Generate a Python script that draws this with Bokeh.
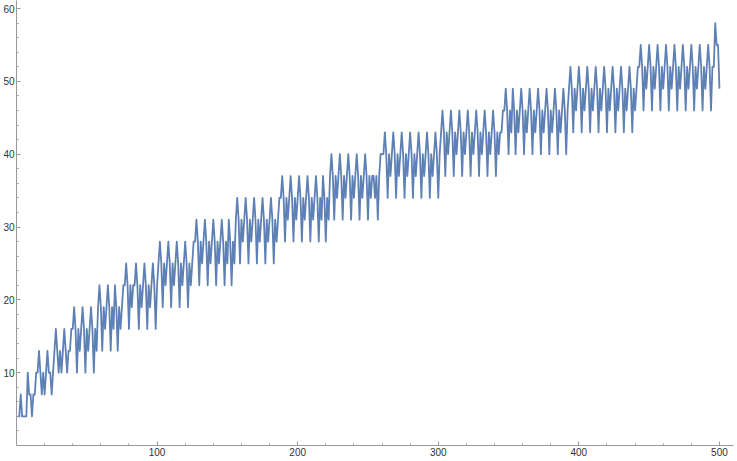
from bokeh.plotting import figure
from bokeh.models import Range1d, FixedTicker
from bokeh.embed import file_html
from bokeh.resources import INLINE

# values, x = 1, 2, 3, ... (one row starts at each peak)
values = [
    4, 4, 7, 4, 4, 4, 4, 10, 7, 7, 4, 7, 7, 10, 10,
    13, 10, 7, 10, 7, 10,
    13, 10, 10, 7, 10, 13,
    16, 13, 10, 13, 10, 13,
    16, 13, 10, 13, 13, 16, 16,
    19, 16, 10, 16, 13, 16,
    19, 16, 10, 16, 13, 16,
    19, 16, 10, 16, 13, 19,
    22, 19, 13, 19, 16, 19,
    22, 19, 13, 19, 16,
    22, 19, 13, 19, 16, 19, 22, 22,
    25, 22, 16, 22, 19, 22, 22,
    25, 22, 16, 22, 19, 22,
    25, 22, 16, 22, 19, 22,
    25, 22, 16, 22, 25,
    28, 25, 19, 25, 22, 25,
    28, 25, 19, 25, 22, 25,
    28, 25, 19, 25, 22, 25,
    28, 25, 19, 25, 22, 25, 28, 28,
    31, 28, 22, 28, 25, 28,
    31, 28, 22, 28, 25, 28,
    31, 28, 22, 28, 25, 28,
    31, 28, 22, 28, 25,
    31, 28, 22, 28, 25, 31,
    34, 31, 25, 31, 28, 31,
    34, 31, 25, 31, 28, 31,
    34, 31, 25, 31, 28, 31,
    34, 31, 25, 31, 28, 31,
    34, 31, 25, 31, 28, 31, 34, 34,
    37, 34, 28, 34, 31, 34,
    37, 34, 28, 34, 31, 34,
    37, 34, 28, 34, 31, 34,
    37, 34, 28, 34, 31, 34,
    37, 34, 28, 34, 31,
    37, 34, 28, 34, 31, 37,
    40, 37, 31, 37, 34, 37,
    40, 37, 31, 37, 34, 37,
    40, 37, 31, 37, 34, 37,
    40, 37, 31, 37, 34, 37,
    40, 37, 31, 37, 34, 37, 37, 34, 37, 31, 37, 40, 40, 40,
    43, 40, 34, 40, 37, 40,
    43, 40, 34, 40, 37, 40,
    43, 40, 34, 40, 37, 40,
    43, 40, 34, 40, 37, 40,
    43, 40, 34, 40, 37, 40,
    43, 40, 34, 40, 37, 40,
    43, 40, 34, 40, 43,
    46, 43, 37, 43, 40, 43,
    46, 43, 37, 43, 40, 43,
    46, 43, 37, 43, 40, 43,
    46, 43, 37, 43, 40, 43,
    46, 43, 37, 43, 40, 43,
    46, 43, 37, 43, 40, 43,
    46, 43, 37, 43, 40, 43, 43, 46, 46,
    49, 46, 40, 46, 43,
    49, 46, 40, 46, 43, 46,
    49, 46, 40, 46, 43, 46,
    49, 46, 40, 46, 43, 46,
    49, 46, 40, 46, 43, 46,
    49, 46, 40, 46, 43, 46,
    49, 46, 40, 46, 43, 46,
    49, 46, 40, 46, 49,
    52, 49, 43, 49, 46, 49,
    52, 49, 43, 49, 46, 49,
    52, 49, 43, 49, 46, 49,
    52, 49, 43, 49, 46, 49,
    52, 49, 43, 49, 46, 49,
    52, 49, 43, 49, 46, 49,
    52, 49, 43, 49, 46, 49,
    52, 49, 43, 49, 46, 49, 52, 52,
    55, 52, 46, 52, 49, 52,
    55, 52, 46, 52, 49, 52,
    55, 52, 46, 52, 49, 52,
    55, 52, 46, 52, 49, 52,
    55, 52, 46, 52, 49, 52,
    55, 52, 46, 52, 49, 52,
    55, 52, 46, 52, 49, 52,
    55, 52, 46, 52, 49, 52,
    55, 52, 46, 52, 52,
    58, 55, 55, 49,
]
xs = list(range(1, len(values) + 1))

x_major = [100, 200, 300, 400, 500]
x_minor = [20, 40, 60, 80, 120, 140, 160, 180, 220, 240, 260, 280,
           320, 340, 360, 380, 420, 440, 460, 480]
y_major = [10, 20, 30, 40, 50, 60]
y_minor = [2, 4, 6, 8, 12, 14, 16, 18, 22, 24, 26, 28, 32, 34, 36, 38,
           42, 44, 46, 48, 52, 54, 56, 58]

p = figure(width=737, height=461, x_range=Range1d(0, 510), y_range=Range1d(0, 61.1),
           output_backend="svg", toolbar_location=None,
           min_border_left=15, min_border_right=4, min_border_top=0, min_border_bottom=16)
p.styles = {"position": "absolute", "left": "0px", "top": "0px"}
p.outline_line_color = None
p.grid.visible = False
p.background_fill_color = "white"
p.border_fill_color = "white"

p.line(xs, values, line_color="#5E81B5", line_width=1.8, line_join="round")

for ax, maj, mnr in ((p.xaxis[0], x_major, x_minor), (p.yaxis[0], y_major, y_minor)):
    ax.ticker = FixedTicker(ticks=maj, minor_ticks=mnr)
    ax.axis_line_color = "#999999"
    ax.major_tick_line_color = "#999999"
    ax.minor_tick_line_color = "#999999"
    ax.major_tick_in = 4
    ax.major_tick_out = 0
    ax.minor_tick_in = 2
    ax.minor_tick_out = 0
    ax.major_label_text_font = "Liberation Sans"
    ax.major_label_text_font_size = "10px"
    ax.major_label_text_color = "#333333"
    ax.major_label_standoff = 2

open("out.html", "w").write(file_html(p, INLINE))
